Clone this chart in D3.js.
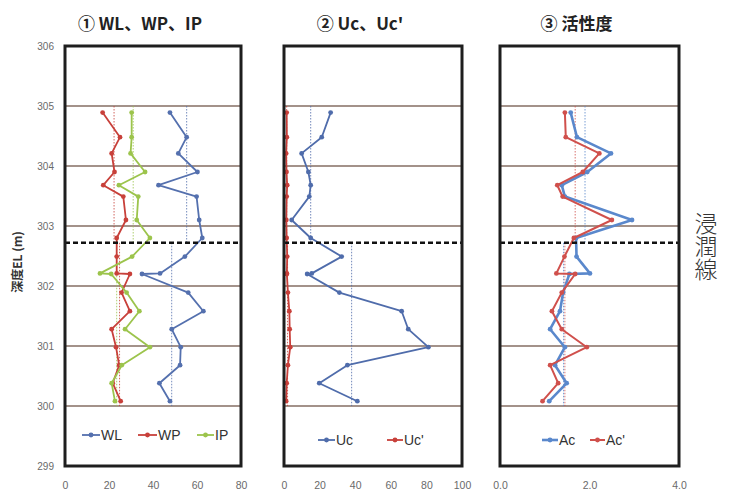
<!DOCTYPE html>
<html>
<head>
<meta charset="utf-8">
<script src="https://cdn.jsdelivr.net/npm/d3@7"></script>
<style>
  body { margin: 0; background: #fff; }
  svg { display: block; font-family: "Liberation Sans", Arial, sans-serif; }
</style>
</head>
<body>
<svg id="chart" width="730" height="492"></svg>
<script>
// elevation of each sample (m), two samples share ~302.2
const depthEL = [304.89, 304.48, 304.21, 303.90, 303.68, 303.49, 303.10, 302.80, 302.49, 302.21, 302.20, 301.89, 301.58, 301.28, 300.98, 300.68, 300.38, 300.08]

// panel 1
const WL = [47.7, 55.3, 51.5, 60.2, 42.5, 59.8, 61.0, 62.4, 54.5, 43.2, 35.0, 56.0, 62.9, 48.5, 52.6, 52.3, 42.9, 47.7]
const WP = [17.1, 25.0, 21.2, 22.5, 17.4, 26.5, 27.7, 23.5, 23.5, 23.5, 29.5, 25.7, 29.5, 21.2, 23.2, 24.6, 21.7, 25.3]
const IP = [30.3, 30.3, 29.8, 36.4, 24.5, 33.3, 32.6, 38.6, 30.5, 15.9, 21.0, 28.0, 33.8, 27.3, 38.6, 25.8, 21.2, 22.7]
// panel 2
const Uc  = [26.2, 21.2, 9.9, 13.7, 15.0, 14.2, 4.3, 15.0, 32.4, 15.6, 13.0, 31.1, 66.1, 69.8, 81.1, 35.6, 19.8, 41.2]
const Uc2 = [1.5, 1.6, 1.2, 1.4, 1.8, 1.5, 1.3, 1.5, 1.8, 1.6, 1.6, 2.2, 3.0, 3.2, 3.5, 2.2, 1.5, 1.2]
// panel 3
const Ac  = [1.58, 1.72, 2.48, 1.95, 1.38, 1.45, 2.95, 1.70, 1.71, 2.01, 1.55, 1.41, 1.34, 1.12, 1.45, 1.23, 1.49, 1.10]
const Ac2 = [1.45, 1.47, 2.22, 1.85, 1.28, 1.40, 2.50, 1.65, 1.44, 1.26, 1.68, 1.38, 1.16, 1.38, 1.94, 1.12, 1.30, 0.95]

// layer averages: above / below the seepage line
const meanRanges = [[305, 302.72], [302.72, 300]]
const WLmean = [55.3, 48.5]
const WPmean = [22.3, 24.8]
const IPmean = [31.0, 23.5]
const UcMean = [15, 38]
const Uc2Mean = [1.5, 2.0]
const AcMean = [1.9, 1.42]
const Ac2Mean = [1.68, 1.45]

const seepageEL = 302.72
const yTicks = [299, 300, 301, 302, 303, 304, 305, 306]
const gridLevels = [300, 301, 302, 303, 304, 305]

const svg = d3.select('#chart')

const y = d3.scaleLinear().domain([306, 299]).range([46, 466])

const blue = '#5470ae', red = '#c8403a', green = '#9cc44c'

const panels = [
  {title: '① WL、WP、IP', x0: 65, x1: 241, domain: [0, 80], ticks: [0, 20, 40, 60, 80], fmt: d3.format('d'),
   series: [
     {name: 'WL', vals: WL, mean: WLmean, color: blue, w: 1.8},
     {name: 'WP', vals: WP, mean: WPmean, color: red, w: 1.8},
     {name: 'IP', vals: IP, mean: IPmean, color: green, w: 1.8}],
   legend: {y: 435, items: [[82, 100], [138, 157], [197, 214]]}},
  {title: "② Uc、Uc'", x0: 284, x1: 462, domain: [0, 100], ticks: [0, 20, 40, 60, 80, 100], fmt: d3.format('d'),
   series: [
     {name: 'Uc', vals: Uc, mean: UcMean, color: '#4f6cab', w: 1.8},
     {name: "Uc'", vals: Uc2, mean: Uc2Mean, color: red, w: 1.8}],
   legend: {y: 440, items: [[318, 335], [387, 403]]}},
  {title: '③ 活性度', x0: 500, x1: 679, domain: [0, 4], ticks: [0, 2, 4], fmt: d3.format('.1f'),
   series: [
     {name: 'Ac', vals: Ac, mean: AcMean, color: '#5a88cc', w: 2.6},
     {name: "Ac'", vals: Ac2, mean: Ac2Mean, color: '#d0504c', w: 2.0}],
   legend: {y: 440, items: [[542, 558], [590, 605]]}}
]

panels.forEach(p => {
  const x = d3.scaleLinear().domain(p.domain).range([p.x0, p.x1])
  const g = svg.append('g')

  // gridlines
  g.selectAll('.grid').data(gridLevels).join('line')
    .attr('x1', p.x0).attr('x2', p.x1)
    .attr('y1', d => y(d)).attr('y2', d => y(d))
    .attr('stroke', '#a3928a').attr('stroke-width', 1.8)

  // averages (dotted)
  p.series.forEach(s => {
    g.selectAll(null).data(meanRanges).join('line')
      .attr('x1', (d, i) => x(s.mean[i])).attr('x2', (d, i) => x(s.mean[i]))
      .attr('y1', d => y(d[0])).attr('y2', d => y(d[1]))
      .attr('stroke', s.color).attr('stroke-width', 1)
      .attr('stroke-dasharray', '1.5,1.5').attr('opacity', 0.8)
  })

  // series
  p.series.forEach(s => {
    const pts = depthEL.map((d, i) => [s.vals[i], d])
    g.append('path')
      .attr('d', d3.line().x(d => x(d[0])).y(d => y(d[1]))(pts))
      .attr('fill', 'none').attr('stroke', s.color).attr('stroke-width', s.w)
      .attr('stroke-linejoin', 'round')
    g.selectAll(null).data(pts).join('circle')
      .attr('cx', d => x(d[0])).attr('cy', d => y(d[1])).attr('r', 2.4)
      .attr('fill', s.color)
  })

  // seepage line
  g.append('line')
    .attr('x1', p.x0).attr('x2', p.x1)
    .attr('y1', y(seepageEL)).attr('y2', y(seepageEL))
    .attr('stroke', '#111').attr('stroke-width', 2.6).attr('stroke-dasharray', '5,3')

  // frame
  g.append('rect')
    .attr('x', p.x0).attr('y', y(306))
    .attr('width', p.x1 - p.x0).attr('height', y(299) - y(306))
    .attr('fill', 'none').attr('stroke', '#1e1e1e').attr('stroke-width', 3)

  // x axis
  const ax = svg.append('g').attr('transform', 'translate(0,478)')
    .call(d3.axisBottom(x).tickValues(p.ticks).tickFormat(p.fmt).tickSize(0).tickPadding(4))
  ax.select('.domain').remove()
  ax.selectAll('text').attr('fill', '#6a6a6a').style('font-size', '10.5px')

  // title (sits a little left of the panel centre)
  svg.append('text')
    .attr('x', (p.x0 + p.x1) / 2 - 13).attr('y', 30)
    .attr('text-anchor', 'middle')
    .style('font-family', '"Noto Sans CJK JP", "Liberation Sans", sans-serif')
    .style('font-size', '17px').style('font-weight', 'bold').attr('fill', '#222')
    .text(p.title)

  // legend
  p.series.forEach((s, i) => {
    const [a, b] = p.legend.items[i]
    const ly = p.legend.y
    g.append('line').attr('x1', a).attr('x2', b).attr('y1', ly).attr('y2', ly)
      .attr('stroke', s.color).attr('stroke-width', s.w)
    g.append('circle').attr('cx', (a + b) / 2).attr('cy', ly).attr('r', 2.4).attr('fill', s.color)
    g.append('text').attr('x', b + 1).attr('y', ly + 5)
      .style('font-size', '14px').attr('fill', '#333')
      .text(s.name)
  })
})

// y axis on first panel
const ay = svg.append('g').attr('transform', 'translate(56,0)')
  .call(d3.axisLeft(y).tickValues(yTicks).tickFormat(d3.format('d')).tickSize(0).tickPadding(2))
ay.select('.domain').remove()
ay.selectAll('text').attr('fill', '#6a6a6a').style('font-size', '10px')

svg.append('text')
  .attr('transform', 'translate(22,262) rotate(-90)')
  .attr('text-anchor', 'middle')
  .style('font-family', '"Noto Sans CJK JP", sans-serif')
  .style('font-size', '12px').style('font-weight', 'bold').attr('fill', '#333')
  .text('深度EL (m)')

// seepage label, vertical
svg.append('text')
  .attr('x', 706).attr('y', 212)
  .style('writing-mode', 'vertical-rl')
  .style('font-family', '"Noto Sans CJK JP", sans-serif')
  .style('font-size', '23px').style('font-weight', 300).attr('fill', '#333')
  .text('浸潤線')
</script>
</body>
</html>
